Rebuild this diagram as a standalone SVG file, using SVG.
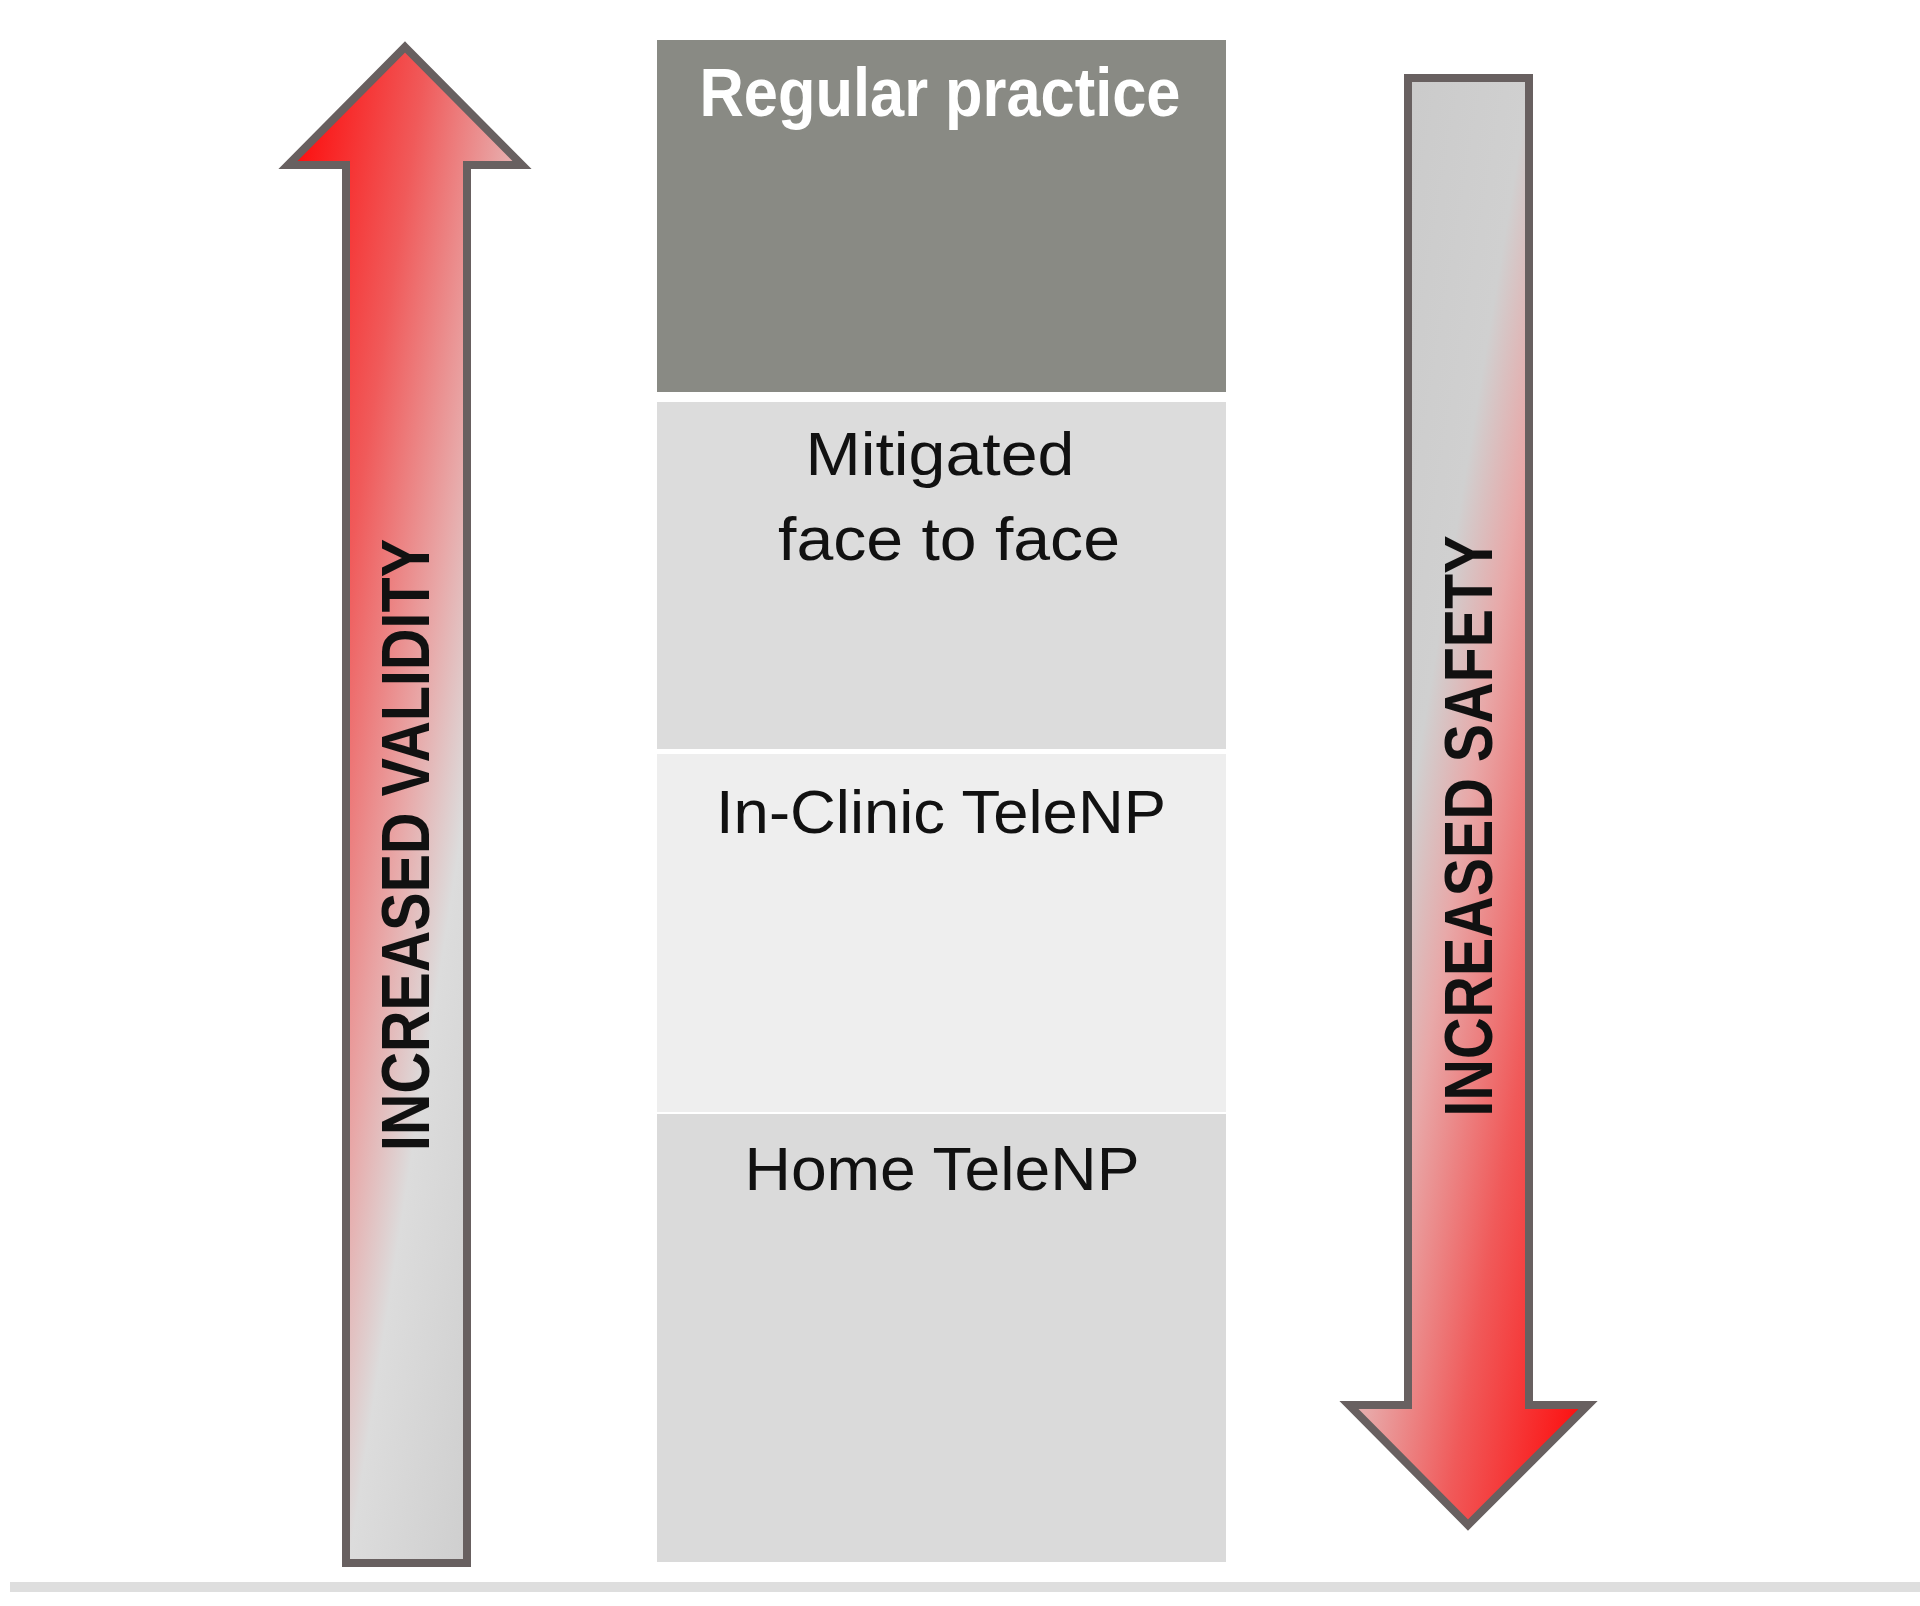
<svg xmlns="http://www.w3.org/2000/svg" width="1920" height="1606" viewBox="0 0 1920 1606">
<defs>
<linearGradient id="gUp" x1="0" y1="0" x2="1" y2="1">
<stop offset="0" stop-color="#ff0000"/>
<stop offset="0.3" stop-color="#f05a5a"/>
<stop offset="0.5" stop-color="#e8a8a8"/>
<stop offset="0.63" stop-color="#dcdcdc"/>
<stop offset="1" stop-color="#c8c8c8"/>
</linearGradient>
<linearGradient id="gDown" x1="0" y1="0" x2="1" y2="1">
<stop offset="0" stop-color="#c8c8c8"/>
<stop offset="0.38" stop-color="#d0d0d0"/>
<stop offset="0.5" stop-color="#e8a8a8"/>
<stop offset="0.7" stop-color="#f05a5a"/>
<stop offset="1" stop-color="#ff0000"/>
</linearGradient>
<style>
.arrow{stroke:#686060;stroke-width:8;stroke-linejoin:miter}
.lbl{font-family:"Liberation Sans",Arial,sans-serif;font-size:62px;fill:#111;text-anchor:middle}
.vlbl{font-family:"Liberation Sans",Arial,sans-serif;font-size:68px;font-weight:bold;fill:#111;text-anchor:middle}
</style>
</defs>
<rect width="1920" height="1606" fill="#ffffff"/>
<rect x="10" y="1582" width="1910" height="10" fill="#dedede"/>
<g id="arrow-validity">
<path class="arrow" fill="url(#gUp)" d="M405,47 L522,165 L467,165 L467,1563 L346,1563 L346,165 L288,165 Z"/>
<text class="vlbl" transform="translate(429,845) rotate(-90)" textLength="612" lengthAdjust="spacingAndGlyphs">INCREASED VALIDITY</text>
</g>
<g id="arrow-safety">
<path class="arrow" fill="url(#gDown)" d="M1408,78 L1529,78 L1529,1405 L1588,1405 L1468,1525 L1349,1405 L1408,1405 Z"/>
<text class="vlbl" transform="translate(1492,826) rotate(-90)" textLength="581" lengthAdjust="spacingAndGlyphs">INCREASED SAFETY</text>
</g>
<g id="regular-practice">
<rect x="657" y="40" width="569" height="352" fill="#898a84"/>
<text x="940" y="116" font-family="'Liberation Sans',Arial,sans-serif" font-size="68" font-weight="bold" fill="#ffffff" text-anchor="middle" textLength="481" lengthAdjust="spacingAndGlyphs">Regular practice</text>
</g>
<g id="mitigated">
<rect x="657" y="402" width="569" height="347" fill="#dcdcdc"/>
<text class="lbl" x="940" y="475" textLength="269" lengthAdjust="spacingAndGlyphs">Mitigated</text>
<text class="lbl" x="949" y="560" textLength="342" lengthAdjust="spacingAndGlyphs">face to face</text>
</g>
<g id="in-clinic">
<rect x="657" y="754" width="569" height="358" fill="#eeeeee"/>
<text class="lbl" x="941" y="833" textLength="450" lengthAdjust="spacingAndGlyphs">In-Clinic TeleNP</text>
</g>
<g id="home">
<rect x="657" y="1114" width="569" height="448" fill="#dadada"/>
<text class="lbl" x="942" y="1190" textLength="395" lengthAdjust="spacingAndGlyphs">Home TeleNP</text>
</g>
<g id="connectors"/>
</svg>
